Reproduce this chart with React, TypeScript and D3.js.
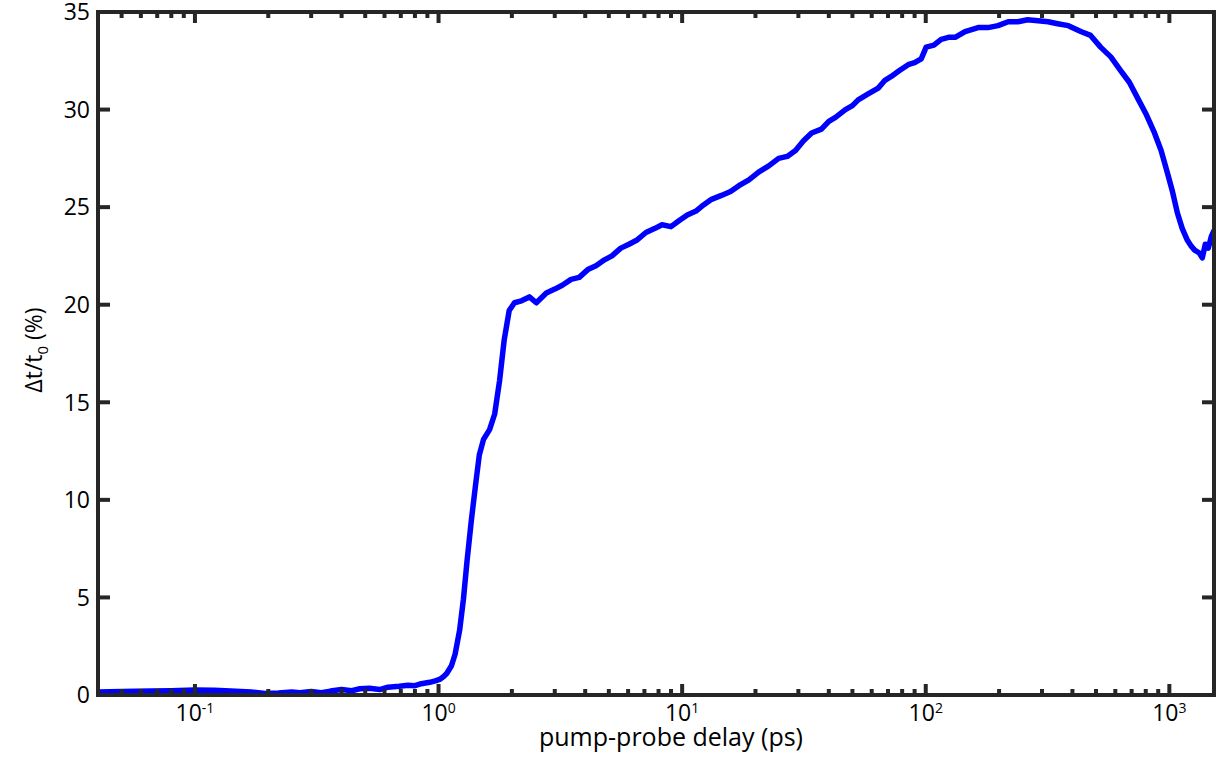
import React from "react";
import * as d3 from "d3";

// pump-probe delay in ps (log axis) and transmission change in %
const delayPs = [
  0.04, 0.05, 0.066, 0.08, 0.1, 0.12, 0.14, 0.17, 0.194, 0.22, 0.25, 0.27, 0.3, 0.33,
  0.36, 0.4, 0.44, 0.475, 0.52, 0.573, 0.62, 0.69, 0.75, 0.8, 0.85, 0.92, 0.97, 1.01,
  1.05, 1.08, 1.13, 1.17, 1.22, 1.265, 1.31, 1.365, 1.42, 1.47, 1.53, 1.62, 1.7, 1.78,
  1.86, 1.95, 2.05, 2.19, 2.36, 2.52, 2.77, 3.0, 3.22, 3.5, 3.78, 4.1, 4.43, 4.8, 5.15,
  5.6, 6.05, 6.5, 7.1, 7.7, 8.27, 9.0, 9.7, 10.5, 11.4, 12.2, 13.2, 14.5, 15.8, 17.1,
  18.8, 20.6, 22.6, 24.9, 27.0, 29.2, 31.5, 34.0, 37.3, 40.0, 42.6, 46.8, 50.0, 52.8,
  58.0, 63.8, 68.0, 72.2, 78.0, 84.7, 90.0, 95.8, 100.4, 108, 115.7, 124, 132, 145,
  164, 180, 198, 218, 239, 262, 289, 318, 348, 385, 433, 475, 522, 575, 631, 685, 740,
  800, 869, 925, 982, 1030, 1079, 1130, 1186, 1230, 1270, 1328, 1365, 1405, 1445, 1487,
  1525,
];

const signalPct = [
  0.15, 0.18, 0.2, 0.22, 0.25, 0.24, 0.2, 0.15, 0.08, 0.1, 0.15, 0.12, 0.18, 0.12,
  0.2, 0.28, 0.22, 0.32, 0.35, 0.28, 0.4, 0.45, 0.5, 0.48, 0.58, 0.65, 0.72, 0.8,
  0.95, 1.1, 1.5, 2.1, 3.3, 4.9, 6.9, 9.0, 10.8, 12.3, 13.1, 13.6, 14.4, 16.1,
  18.2, 19.7, 20.1, 20.2, 20.4, 20.1, 20.6, 20.8, 21.0, 21.3, 21.4, 21.8, 22.0, 22.3, 22.5,
  22.9, 23.1, 23.3, 23.7, 23.9, 24.1, 24.0, 24.3, 24.6, 24.8, 25.1, 25.4, 25.6, 25.8, 26.1,
  26.4, 26.8, 27.1, 27.5, 27.6, 27.9, 28.4, 28.8, 29.0, 29.4, 29.6, 30.0, 30.2, 30.5,
  30.8, 31.1, 31.5, 31.7, 32.0, 32.3, 32.4, 32.6, 33.2, 33.3, 33.6, 33.7, 33.7, 34.0,
  34.2, 34.2, 34.3, 34.5, 34.5, 34.6, 34.55, 34.5, 34.4, 34.3, 34.0, 33.8, 33.2, 32.7, 32.0, 31.4, 30.6,
  29.8, 28.8, 27.9, 26.75, 25.8, 24.7, 23.9, 23.3, 23.0, 22.8, 22.65, 22.4, 23.1, 22.9, 23.5,
  23.8,
];

const yTickValues = [0, 5, 10, 15, 20, 25, 30, 35];
const xDecadeExponents = [-1, 0, 1, 2, 3];

const axisColor = "#262626";
const fontFamily = "'Open Sans', 'Noto Sans', sans-serif";

export default function App() {
  const width = 1218;
  const height = 763;
  const margin = { top: 12, right: 4, bottom: 68, left: 98 };
  const x0 = margin.left;
  const x1 = width - margin.right;
  const y0 = height - margin.bottom;
  const y1 = margin.top;

  const x = d3.scaleLog().domain([0.04, 1525]).range([x0, x1]);
  const y = d3.scaleLinear().domain([0, 35]).range([y0, y1]);

  const points: [number, number][] = delayPs.map((d, i) => [d, signalPct[i]]);
  const line = d3
    .line<[number, number]>()
    .x((d) => x(d[0]))
    .y((d) => y(d[1]));

  // minor + major x ticks (1..9 x 10^k)
  const xTicks = x.ticks().filter((t) => t >= 0.04 && t <= 1525);
  const isMajor = (t: number) => Math.abs(Math.log10(t) - Math.round(Math.log10(t))) < 1e-6;

  return (
    <svg
      width={width}
      height={height}
      style={{ position: "fixed", left: 0, top: 0, background: "#fff" }}
      fontFamily={fontFamily}
    >
      <defs>
        <clipPath id="plot-clip">
          <rect x={x0} y={y1 - 4} width={x1 - x0} height={y0 - y1 + 4} />
        </clipPath>
      </defs>

      {/* data line */}
      <path
        d={line(points) || ""}
        fill="none"
        stroke="#0000ff"
        strokeWidth={5.5}
        strokeLinejoin="round"
        strokeLinecap="round"
        clipPath="url(#plot-clip)"
      />

      {/* x ticks, bottom and top */}
      {xTicks.map((t, i) => {
        const len = isMajor(t) ? 11 : 6;
        return (
          <g key={"xt" + i} stroke={axisColor} strokeWidth={4}>
            <line x1={x(t)} x2={x(t)} y1={y0} y2={y0 - len} />
            <line x1={x(t)} x2={x(t)} y1={y1} y2={y1 + len} />
          </g>
        );
      })}

      {/* y ticks, left and right */}
      {yTickValues.map((v) => (
        <g key={"yt" + v} stroke={axisColor} strokeWidth={4}>
          <line x1={x0} x2={x0 + 12} y1={y(v)} y2={y(v)} />
          <line x1={x1} x2={x1 - 12} y1={y(v)} y2={y(v)} />
        </g>
      ))}

      {/* frame */}
      <rect
        x={x0}
        y={y1}
        width={x1 - x0}
        height={y0 - y1}
        fill="none"
        stroke={axisColor}
        strokeWidth={4}
      />

      {/* y tick labels */}
      {yTickValues.map((v) => (
        <text
          key={"yl" + v}
          x={x0 - 8}
          y={y(v)}
          dy="0.36em"
          textAnchor="end"
          fontSize={23}
          fill="#000"
        >
          {v}
        </text>
      ))}

      {/* x tick labels 10^k */}
      {xDecadeExponents.map((e) => (
        <text
          key={"xl" + e}
          x={x(Math.pow(10, e))}
          y={721}
          textAnchor="middle"
          fontSize={23}
          fill="#000"
        >
          10
          <tspan fontSize={14} dy={-8}>
            {e}
          </tspan>
        </text>
      ))}

      {/* axis titles */}
      <text x={671} y={746} textAnchor="middle" fontSize={25} fill="#000">
        pump-probe delay (ps)
      </text>
      <text
        transform="translate(42,350) rotate(-90)"
        textAnchor="middle"
        fontSize={23}
        fill="#000"
      >
        Δt/t
        <tspan fontSize={15} dy={6}>
          0
        </tspan>
        <tspan dy={-6}> (%)</tspan>
      </text>
    </svg>
  );
}
